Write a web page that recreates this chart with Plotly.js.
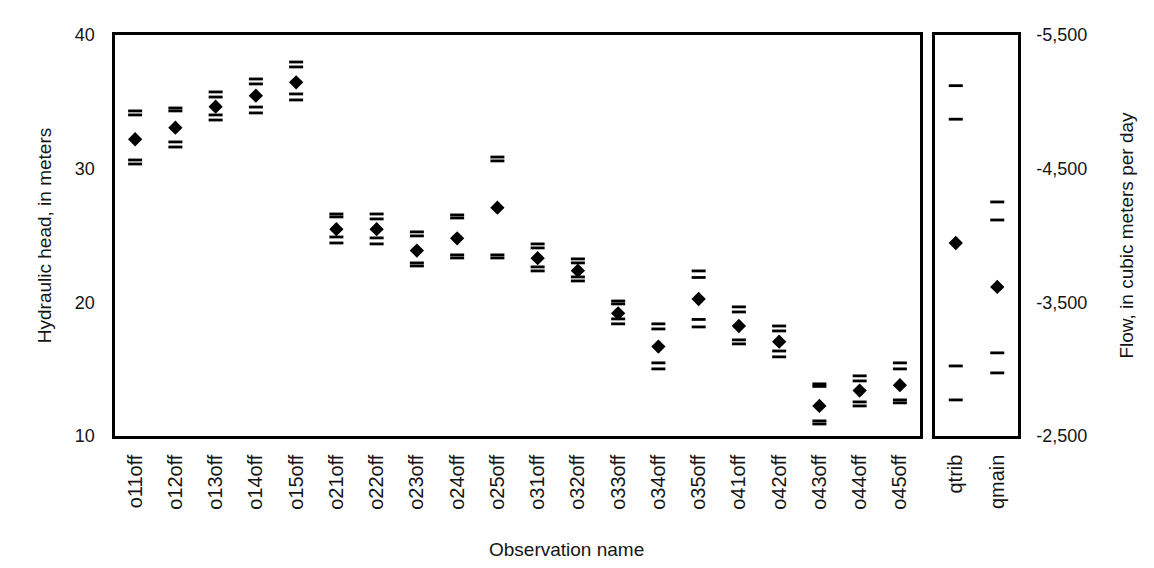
<!DOCTYPE html>
<html>
<head>
<meta charset="utf-8">
<script src="https://cdn.plot.ly/plotly-3.0.1.min.js"></script>
<style>
  html, body { margin: 0; padding: 0; background: #ffffff; }
  #chart { width: 1154px; height: 568px; }
</style>
</head>
<body>
<div id="chart"></div>
<script>
// Head observations: simulated value with inner and outer interval limits
const headNames = ["o11off", "o12off", "o13off", "o14off", "o15off",
                   "o21off", "o22off", "o23off", "o24off", "o25off",
                   "o31off", "o32off", "o33off", "o34off", "o35off",
                   "o41off", "o42off", "o43off", "o44off", "o45off"];
const headValue      = [32.20, 33.07, 34.64, 35.46, 36.46, 25.47, 25.47, 23.87, 24.79, 27.08,
                        23.30, 22.37, 19.18, 16.69, 20.25, 18.23, 17.06, 12.25, 13.40, 13.80];
const headUpperOuter = [34.32, 34.54, 35.74, 36.71, 37.98, 26.61, 26.61, 25.27, 26.54, 30.87,
                        24.37, 23.25, 20.10, 18.39, 22.35, 19.66, 18.23, 13.90, 14.50, 15.47];
const headUpperInner = [34.02, 34.32, 35.36, 36.34, 37.61, 26.39, 26.24, 24.97, 26.31, 30.58,
                        24.07, 22.95, 19.88, 18.01, 21.86, 19.28, 17.86, 13.71, 14.12, 15.02];
const headLowerInner = [30.65, 32.00, 34.02, 34.61, 35.59, 24.89, 24.82, 22.95, 23.55, 23.55,
                        22.65, 21.90, 18.76, 15.47, 18.72, 17.19, 16.36, 11.13, 12.55, 12.70];
const headLowerOuter = [30.35, 31.62, 33.64, 34.17, 35.14, 24.44, 24.37, 22.72, 23.32, 23.32,
                        22.35, 21.60, 18.39, 15.02, 18.16, 16.89, 15.92, 10.90, 12.25, 12.48];

// Flow observations (cubic meters per day)
const flowNames      = ["qtrib", "qmain"];
const flowValue      = [-3944, -3615];
const flowUpperOuter = [-5121, -4251];
const flowUpperInner = [-4870, -4116];
const flowLowerInner = [-3024, -3122];
const flowLowerOuter = [-2770, -2972];

// Axis ticks
const headTicks = [10, 20, 30, 40];
const flowTicks = [-5500, -4500, -3500, -2500];
const flowTickText = flowTicks.map(v => "-" + Math.abs(v).toLocaleString("en-US"));

const FONT = "Liberation Sans, Arial, sans-serif";
const INK = "#151515";

const dash = {symbol: "line-ew", size: 10, line: {width: 2.8, color: "#000"}};
const diamond = {symbol: "diamond", size: 11, color: "#000", line: {width: 0}};

function markerTrace(x, y, marker, xa, ya) {
  return {type: "scatter", mode: "markers", x: x, y: y, marker: marker,
          xaxis: xa, yaxis: ya, showlegend: false, hoverinfo: "x+y", cliponaxis: false};
}

const traces = [
  markerTrace(headNames, headUpperOuter, dash, "x", "y"),
  markerTrace(headNames, headUpperInner, dash, "x", "y"),
  markerTrace(headNames, headLowerInner, dash, "x", "y"),
  markerTrace(headNames, headLowerOuter, dash, "x", "y"),
  markerTrace(headNames, headValue, diamond, "x", "y"),
  markerTrace(flowNames, flowUpperOuter, dash, "x2", "y2"),
  markerTrace(flowNames, flowUpperInner, dash, "x2", "y2"),
  markerTrace(flowNames, flowLowerInner, dash, "x2", "y2"),
  markerTrace(flowNames, flowLowerOuter, dash, "x2", "y2"),
  markerTrace(flowNames, flowValue, diamond, "x2", "y2")
];

const frame = {showline: true, linecolor: "#000", linewidth: 2.6, mirror: true,
               showgrid: false, zeroline: false};
const yTickFont = {family: FONT, size: 18, color: INK};
const xTickFont = {family: FONT, size: 20, color: INK};
const titleFont = {family: FONT, size: 19, color: INK};

const layout = {
  width: 1154, height: 568,
  margin: {l: 115, r: 136, t: 35, b: 132},
  paper_bgcolor: "#fff", plot_bgcolor: "#fff",
  showlegend: false,
  xaxis: Object.assign({}, frame, {
    domain: [0, 0.8915], type: "category", anchor: "y",
    range: [-0.5, headNames.length - 0.5],
    tickangle: -90, ticks: "", tickfont: xTickFont, ticklabelstandoff: 8
  }),
  yaxis: Object.assign({}, frame, {
    domain: [0, 1], anchor: "x", range: [10, 40],
    tickvals: headTicks, ticks: "", tickfont: yTickFont, ticklabelstandoff: 14,
    title: {text: "Hydraulic head, in meters", font: titleFont, standoff: 18}
  }),
  xaxis2: Object.assign({}, frame, {
    domain: [0.9081, 1], type: "category", anchor: "y2",
    range: [-0.5, flowNames.length - 0.5],
    tickangle: -90, ticks: "", tickfont: xTickFont, ticklabelstandoff: 8
  }),
  yaxis2: Object.assign({}, frame, {
    domain: [0, 1], anchor: "x2", side: "right", range: [-2500, -5500],
    tickvals: flowTicks, ticktext: flowTickText, ticks: "", tickfont: yTickFont, ticklabelstandoff: 12,
    title: {text: "Flow, in cubic meters per day", font: titleFont, standoff: 34}
  }),
  annotations: [{
    text: "Observation name", xref: "paper", yref: "paper", x: 0.5, y: 0,
    yshift: -113, showarrow: false, xanchor: "center", yanchor: "middle",
    font: titleFont
  }]
};

Plotly.newPlot("chart", traces, layout, {staticPlot: true, displayModeBar: false});
</script>
</body>
</html>
